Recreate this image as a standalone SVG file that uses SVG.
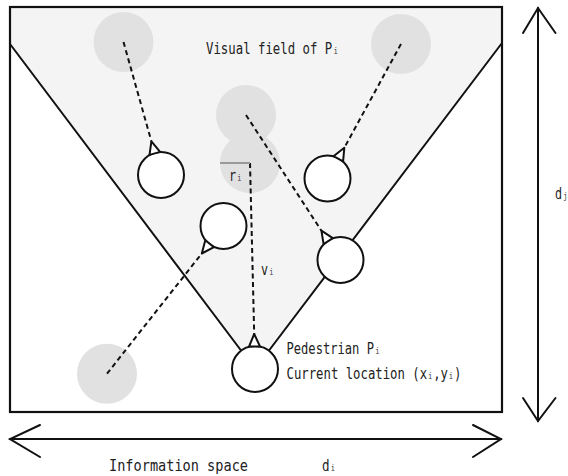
<svg xmlns="http://www.w3.org/2000/svg" width="568" height="476" viewBox="0 0 568 476">
<style>
.ln{stroke:#111;stroke-width:2;fill:none;stroke-linecap:round}
.dash{stroke:#111;stroke-width:2;fill:none;stroke-dasharray:5 3.5}
.ped{fill:#fff;stroke:#111;stroke-width:2}
.head{fill:#fff;stroke:#111;stroke-width:2;stroke-linejoin:round}
.target{fill:#e1e1e1}
.t{font-family:"DejaVu Sans Mono","Liberation Mono",monospace;font-size:15px;fill:#222}
.sub{font-size:9px;fill:#444}
</style>
<rect x="0" y="0" width="568" height="476" fill="#fff"/>
<g id="visual-field">
<polygon points="10,7 502,7 502,43 255,369 10,44" fill="#f4f4f4"/>
</g>
<g id="targets">
<circle class="target" cx="123.5" cy="42" r="30"/>
<circle class="target" cx="401" cy="44" r="30"/>
<circle class="target" cx="246" cy="115" r="30"/>
<circle class="target" cx="250" cy="163" r="30"/>
<circle class="target" cx="107" cy="373.7" r="30"/>
</g>
<g id="connectors">
<line class="ln" x1="10" y1="44" x2="255" y2="369"/>
<line class="ln" x1="502" y1="43" x2="255" y2="369"/>
<line class="dash" x1="123.5" y1="42" x2="151.4" y2="141.4"/>
<line class="dash" x1="401" y1="44" x2="344.3" y2="147.8"/>
<line class="dash" x1="107" y1="373.7" x2="201.8" y2="253.5"/>
<line class="dash" x1="246" y1="115" x2="321.4" y2="230.7"/>
<line class="dash" x1="250" y1="163" x2="254.2" y2="334"/>
<line x1="220" y1="163" x2="250" y2="163" stroke="#999" stroke-width="2"/>
</g>
<g id="ped1">
<circle class="ped" cx="161" cy="175" r="23"/>
<polygon class="head" points="151.4,141.4 160.1,151.9 149.5,154.9"/>
</g>
<g id="ped2">
<circle class="ped" cx="327.5" cy="178.5" r="23"/>
<polygon class="head" points="344.3,147.8 343.1,161.4 333.5,156.2"/>
</g>
<g id="ped3">
<circle class="ped" cx="223.5" cy="226" r="23"/>
<polygon class="head" points="201.8,253.5 213.9,247.1 205.3,240.3"/>
</g>
<g id="ped4">
<circle class="ped" cx="340.5" cy="260" r="23"/>
<polygon class="head" points="321.4,230.7 332.8,238.1 323.6,244.1"/>
</g>
<g id="pedestrian-Pi">
<circle class="ped" cx="255" cy="369" r="23"/>
<polygon class="head" points="254.2,334 260,346.4 249,346.6"/>
</g>
<g id="border">
<rect x="10" y="7" width="492" height="405" fill="none" stroke="#111" stroke-width="2.2"/>
</g>
<g id="dimension-arrows">
<line class="ln" x1="10" y1="439" x2="501" y2="439"/>
<polyline class="ln" points="40,425 10,439 40,457"/>
<polyline class="ln" points="473,425 501,439 473,457"/>
<line class="ln" x1="538" y1="8" x2="538" y2="421"/>
<polyline class="ln" points="523,33 538,8 555.5,33"/>
<polyline class="ln" points="523,398 538,421 555.5,398"/>
</g>
<g id="labels">
<text class="t" x="206" y="54" textLength="132" lengthAdjust="spacingAndGlyphs">Visual field of P<tspan class="sub" dx="1.5">i</tspan></text>
<text class="t" x="229" y="181" textLength="12.5" lengthAdjust="spacingAndGlyphs" fill="#555">r<tspan class="sub" dx="1.5">i</tspan></text>
<text class="t" x="261" y="275" textLength="12.5" lengthAdjust="spacingAndGlyphs">v<tspan class="sub" dx="1.5">i</tspan></text>
<text class="t" x="286.5" y="354" textLength="93" lengthAdjust="spacingAndGlyphs">Pedestrian P<tspan class="sub" dx="1.5">i</tspan></text>
<text class="t" x="286.5" y="379" textLength="175" lengthAdjust="spacingAndGlyphs">Current location (x<tspan class="sub" dx="1">i</tspan><tspan dx="1">,</tspan>y<tspan class="sub" dx="1">i</tspan><tspan dx="1">)</tspan></text>
<text class="t" x="555" y="199" textLength="12.5" lengthAdjust="spacingAndGlyphs">d<tspan class="sub" dx="1.5">j</tspan></text>
<text class="t" x="109" y="471" textLength="139" lengthAdjust="spacingAndGlyphs" style="font-size:16px">Information space</text>
<text class="t" x="322" y="471" textLength="13" lengthAdjust="spacingAndGlyphs" style="font-size:16px">d<tspan class="sub" dx="1.5">i</tspan></text>
</g>
</svg>
